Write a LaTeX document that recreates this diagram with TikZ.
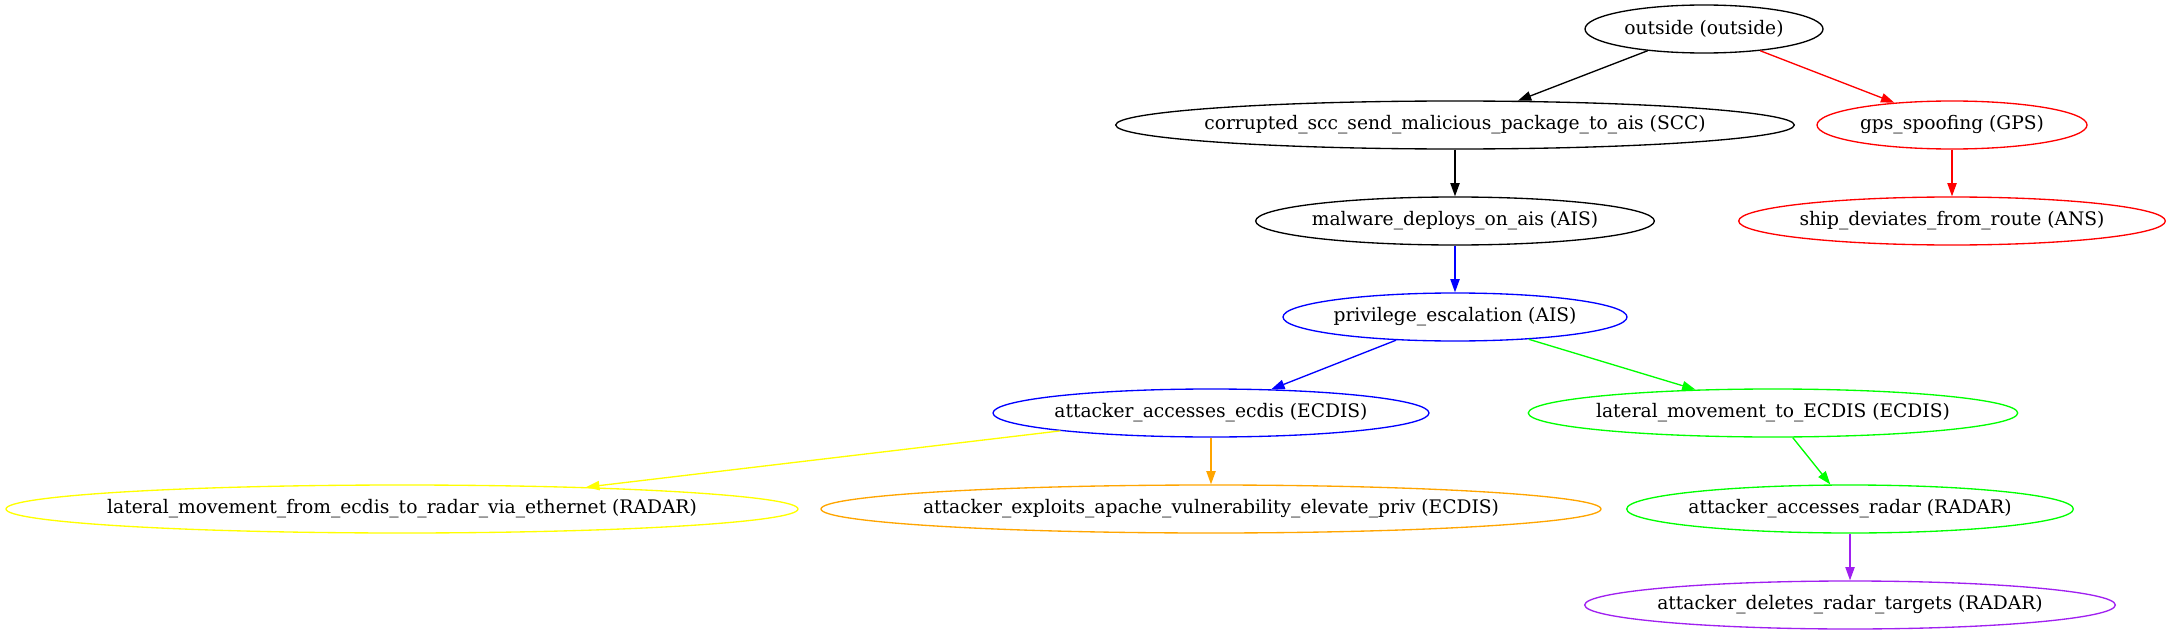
\documentclass[tikz,border=0pt]{standalone}
\usepackage{fontspec}
\setmainfont{DejaVu Serif}
\usepackage{tikz}
\usetikzlibrary{shapes.geometric, arrows.meta}
\usepackage{xcolor}
\definecolor{gvgreen}{HTML}{00FF00}
\definecolor{gvyellow}{HTML}{FFFF00}
\definecolor{gvorange}{HTML}{FFA500}
\definecolor{gvpurple}{HTML}{A020F0}

\begin{document}
\begin{tikzpicture}[x=0.75pt,y=0.75pt,yscale=-1,xscale=1,
  stage/.style={draw, ellipse, line width=1pt, inner sep=0pt, minimum height=36pt,
    text=black, font=\fontsize{14}{16}\selectfont,
    execute at begin node=\hbox to 0pt\bgroup\hss,
    execute at end node=\hss\egroup},
  link/.style={line width=1pt, -{Triangle[length=10pt,width=7pt]}}]
\useasboundingbox (0,0) rectangle (2168,635);

% Nodes
\node [stage, minimum width=178.5pt] (outside) at (1704,29) {outside (outside)};
\node [stage, minimum width=509pt] (corrupted) at (1455,125) {corrupted\_scc\_send\_malicious\_package\_to\_ais (SCC)};
\node [stage, draw=red, minimum width=202.5pt] (gps) at (1952,125) {gps\_spoofing (GPS)};
\node [stage, minimum width=299pt] (malware) at (1455,221) {malware\_deploys\_on\_ais (AIS)};
\node [stage, draw=red, minimum width=320pt] (ship) at (1952,221) {ship\_deviates\_from\_route (ANS)};
\node [stage, draw=blue, minimum width=258pt] (privesc) at (1455,317) {privilege\_escalation (AIS)};
\node [stage, draw=blue, minimum width=327pt] (ecdis) at (1211,413) {attacker\_accesses\_ecdis (ECDIS)};
\node [stage, draw=gvgreen, minimum width=367pt] (lateralto) at (1773,413) {lateral\_movement\_to\_ECDIS (ECDIS)};
\node [stage, draw=gvyellow, minimum width=594pt] (lateralfrom) at (402,509) {lateral\_movement\_from\_ecdis\_to\_radar\_via\_ethernet (RADAR)};
\node [stage, draw=gvorange, minimum width=585pt] (apache) at (1211,509) {attacker\_exploits\_apache\_vulnerability\_elevate\_priv (ECDIS)};
\node [stage, draw=gvgreen, minimum width=335pt] (radar) at (1850,509) {attacker\_accesses\_radar (RADAR)};
\node [stage, draw=gvpurple, minimum width=398pt] (deletes) at (1850,605) {attacker\_deletes\_radar\_targets (RADAR)};

% Edges
\draw [link] (outside) -- (corrupted);
\draw [link, red] (outside) -- (gps);
\draw [link] (corrupted) -- (malware);
\draw [link, red] (gps) -- (ship);
\draw [link, blue] (malware) -- (privesc);
\draw [link, blue] (privesc) -- (ecdis);
\draw [link, gvgreen] (privesc) -- (lateralto);
\draw [link, gvyellow] (ecdis) -- (lateralfrom);
\draw [link, gvorange] (ecdis) -- (apache);
\draw [link, gvgreen] (lateralto) -- (radar);
\draw [link, gvpurple] (radar) -- (deletes);

\end{tikzpicture}
\end{document}
